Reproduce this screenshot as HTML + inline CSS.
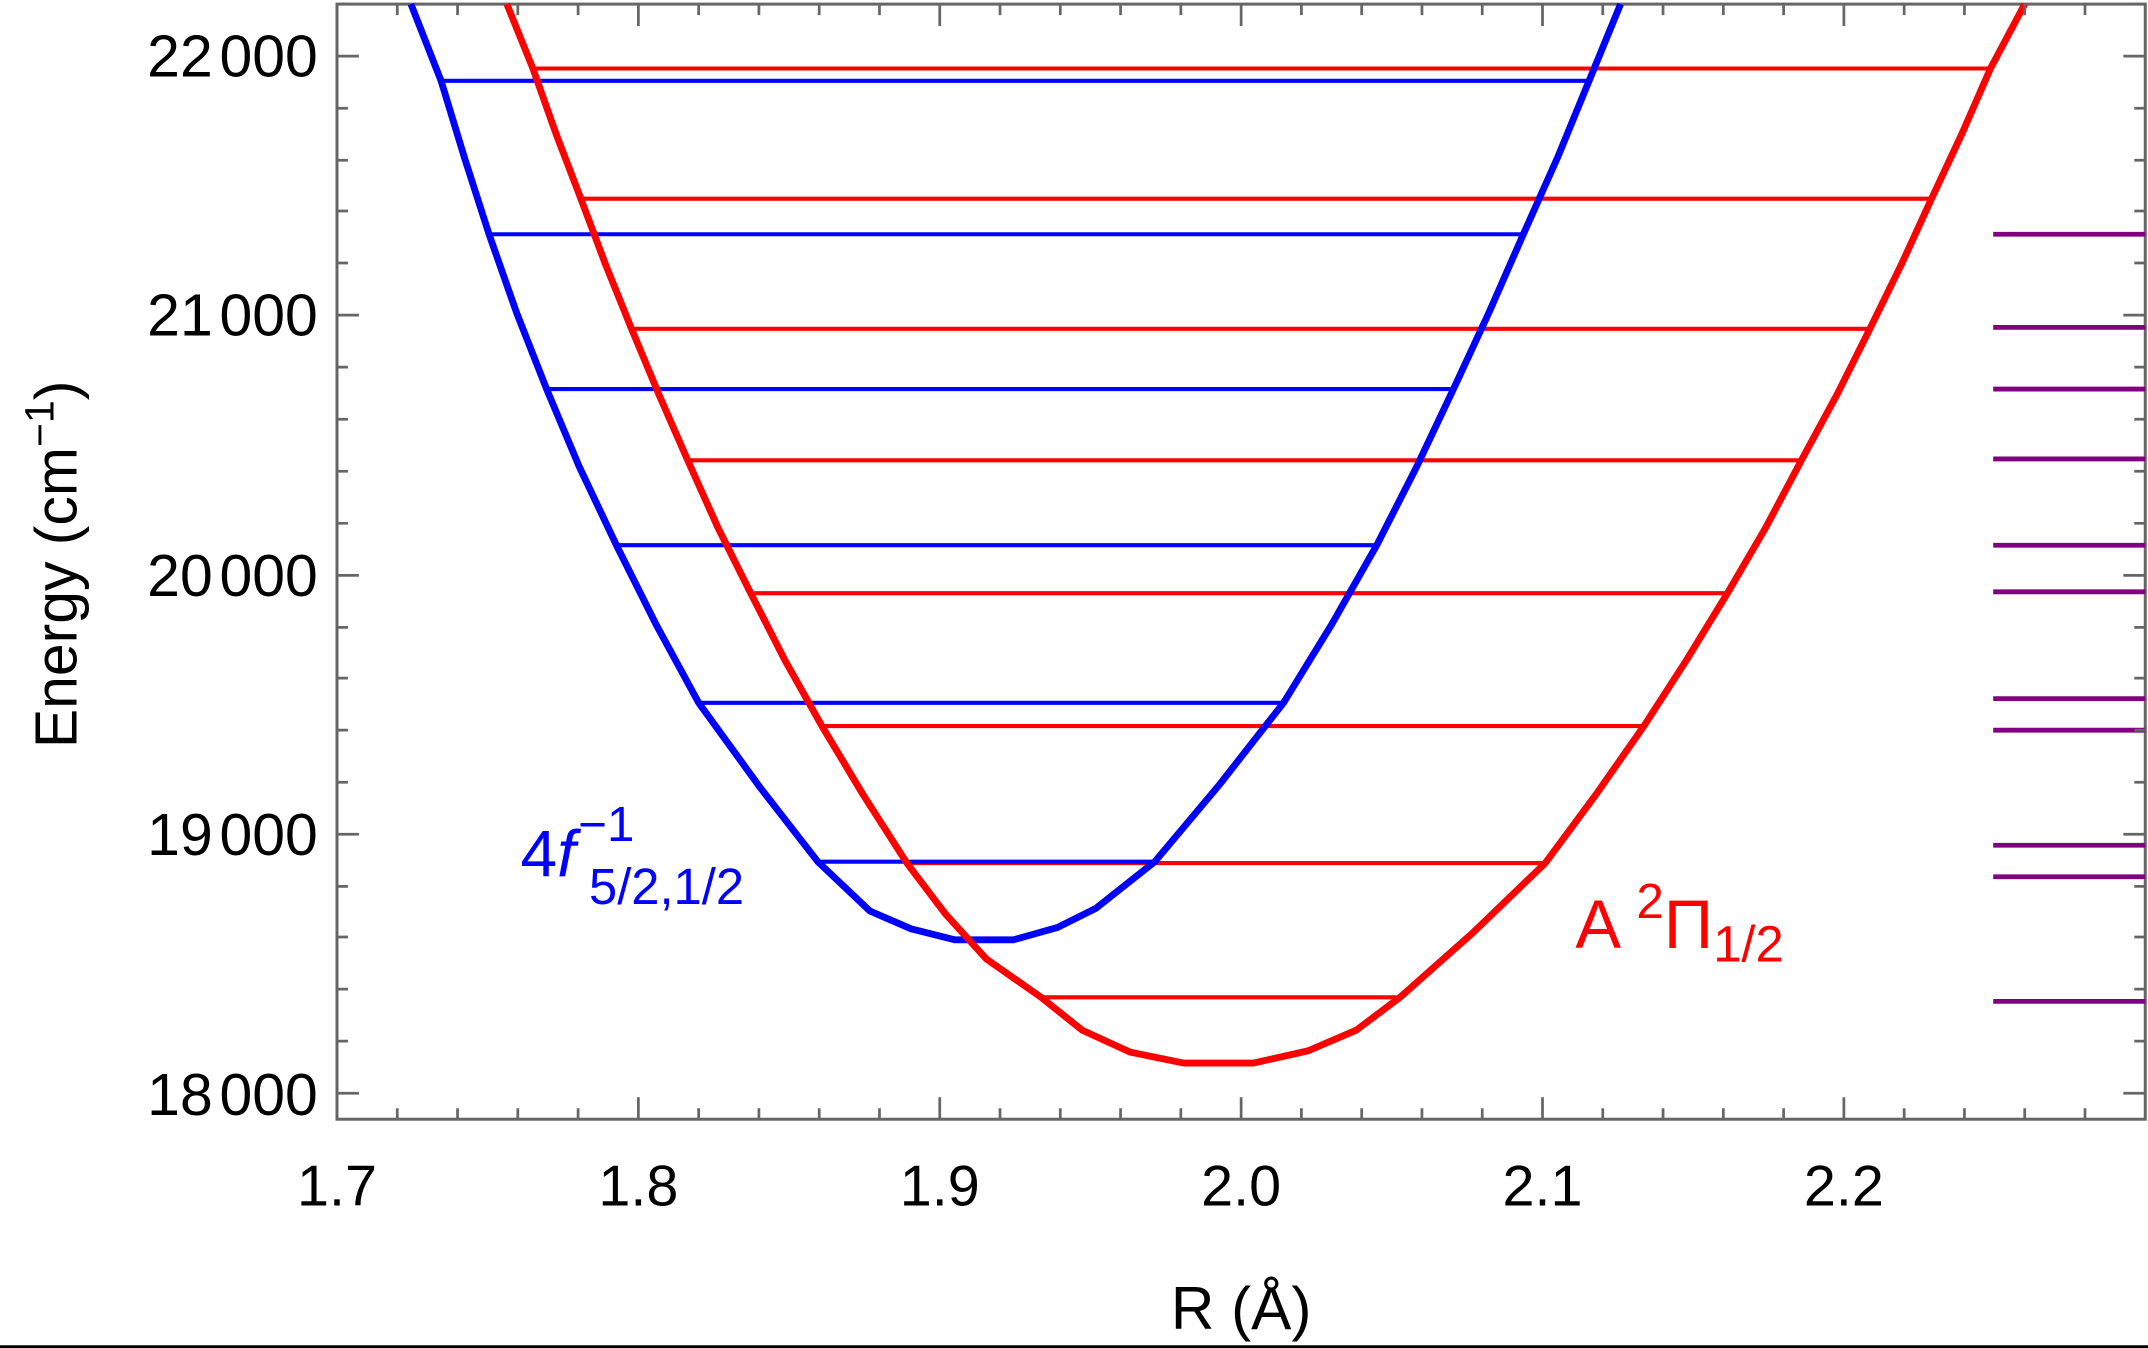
<!DOCTYPE html>
<html><head><meta charset="utf-8"><style>body{margin:0;background:#fff}svg{display:block}</style></head><body>
<svg width="2148" height="1348" viewBox="0 0 1568 984" preserveAspectRatio="none" font-family="Liberation Sans, sans-serif">
<rect width="1568" height="984" fill="#fff"/>
<rect x="246" y="3" width="1320" height="814" fill="none" stroke="#666" stroke-width="2.2"/>
<g stroke-width="3">
<g stroke="#f00">
<line x1="389" x2="1453" y1="50" y2="50"/><line x1="424" x2="1410" y1="145" y2="145"/><line x1="461" x2="1365" y1="240" y2="240"/><line x1="502" x2="1315" y1="336" y2="336"/><line x1="548" x2="1261" y1="433" y2="433"/><line x1="600" x2="1200" y1="530" y2="530"/><line x1="662" x2="1128" y1="630" y2="630"/><line x1="760" x2="1022" y1="728" y2="728"/>
</g>
<g stroke="#00f">
<line x1="322" x2="1160" y1="59" y2="59"/><line x1="357" x2="1112" y1="171" y2="171"/><line x1="399" x2="1061" y1="284" y2="284"/><line x1="450" x2="1005" y1="398" y2="398"/><line x1="510" x2="937" y1="513" y2="513"/><line x1="597" x2="843" y1="629" y2="629"/>
</g>
<g stroke="#800080" stroke-width="3.5">
<line x1="1455" x2="1566" y1="171" y2="171"/><line x1="1455" x2="1566" y1="239" y2="239"/><line x1="1455" x2="1566" y1="284" y2="284"/><line x1="1455" x2="1566" y1="335" y2="335"/><line x1="1455" x2="1566" y1="398" y2="398"/><line x1="1455" x2="1566" y1="432" y2="432"/><line x1="1455" x2="1566" y1="510" y2="510"/><line x1="1455" x2="1566" y1="533" y2="533"/><line x1="1455" x2="1566" y1="617" y2="617"/><line x1="1455" x2="1566" y1="640" y2="640"/><line x1="1455" x2="1566" y1="731" y2="731"/>
</g>
</g>
<g stroke-width="5" fill="none" stroke-linejoin="round">
<polyline stroke="#00f" points="300,3 311,31 322,59 339,115 357,171 377,228 399,284 423,341 450,398 479,456 510,513 555,575 597,629 635,665 665,678 697,686 740,686 772,677 800,663 843,629 890,573 937,513 972,456 1005,398 1034,341 1061,284 1087,228 1112,171 1137,115 1160,59 1183,3"/>
<polyline stroke="#f00" points="370,3 389,50 406,98 424,145 442,193 461,240 481,288 502,336 524,385 548,433 573,482 600,530 630,580 662,630 690,667 720,700 760,728 790,752 825,768 864,776 915,776 955,767 990,752 1022,728 1075,681 1128,630 1165,580 1200,530 1231,482 1261,433 1289,385 1315,336 1341,288 1365,240 1388,193 1410,145 1432,98 1453,50 1478,3"/>
</g>
<g stroke="#666" stroke-width="2">
<path d="M246,817v-16M290,817v-8M334,817v-8M378,817v-8M422,817v-8M466,817v-16M510,817v-8M554,817v-8M598,817v-8M642,817v-8M686,817v-16M730,817v-8M774,817v-8M818,817v-8M862,817v-8M906,817v-16M950,817v-8M994,817v-8M1038,817v-8M1082,817v-8M1126,817v-16M1170,817v-8M1214,817v-8M1258,817v-8M1302,817v-8M1346,817v-16M1390,817v-8M1434,817v-8M1478,817v-8M1522,817v-8"/>
<path d="M246,3v16M290,3v8M334,3v8M378,3v8M422,3v8M466,3v16M510,3v8M554,3v8M598,3v8M642,3v8M686,3v16M730,3v8M774,3v8M818,3v8M862,3v8M906,3v16M950,3v8M994,3v8M1038,3v8M1082,3v8M1126,3v16M1170,3v8M1214,3v8M1258,3v8M1302,3v8M1346,3v16M1390,3v8M1434,3v8M1478,3v8M1522,3v8"/>
<path d="M246,798h16M246,760h8M246,722h8M246,684h8M246,647h8M246,609h16M246,571h8M246,533h8M246,495h8M246,458h8M246,420h16M246,382h8M246,344h8M246,306h8M246,268h8M246,230h16M246,192h8M246,154h8M246,117h8M246,79h8M246,41h16M246,3h8"/>
<path d="M1566,798h-16M1566,760h-8M1566,722h-8M1566,684h-8M1566,647h-8M1566,609h-16M1566,571h-8M1566,533h-8M1566,495h-8M1566,458h-8M1566,420h-16M1566,382h-8M1566,344h-8M1566,306h-8M1566,268h-8M1566,230h-16M1566,192h-8M1566,154h-8M1566,117h-8M1566,79h-8M1566,41h-16M1566,3h-8"/>
</g>
<g font-size="43" fill="#000" text-anchor="end">
<text x="232" y="814">18<tspan dx="5">000</tspan></text><text x="232" y="624">19<tspan dx="5">000</tspan></text><text x="232" y="435">20<tspan dx="5">000</tspan></text><text x="232" y="245">21<tspan dx="5">000</tspan></text><text x="232" y="56">22<tspan dx="5">000</tspan></text>
</g>
<g font-size="42" fill="#000" text-anchor="middle">
<text x="246" y="880">1.7</text><text x="466" y="880">1.8</text><text x="686" y="880">1.9</text><text x="906" y="880">2.0</text><text x="1126" y="880">2.1</text><text x="1346" y="880">2.2</text>
<text x="906" y="970" font-size="44">R (Å)</text>
<text transform="translate(56,412) rotate(-90)" font-size="43">Energy (cm<tspan font-size="30" dy="-17">−1</tspan><tspan dy="17">)</tspan></text>
</g>
<text x="380" y="640" font-size="48" fill="#00f">4<tspan font-style="italic">f</tspan><tspan font-size="36" dy="-26" dx="2">−1</tspan><tspan font-size="37" x="430" dy="46">5/2,1/2</tspan></text>
<text x="1150" y="692" font-size="50" fill="#f00">A <tspan font-size="36" dy="-22">2</tspan><tspan dy="22">Π</tspan><tspan font-size="37" dy="10">1/2</tspan></text>
<rect x="0" y="982" width="1568" height="2" fill="#000"/>
</svg>
</body></html>
